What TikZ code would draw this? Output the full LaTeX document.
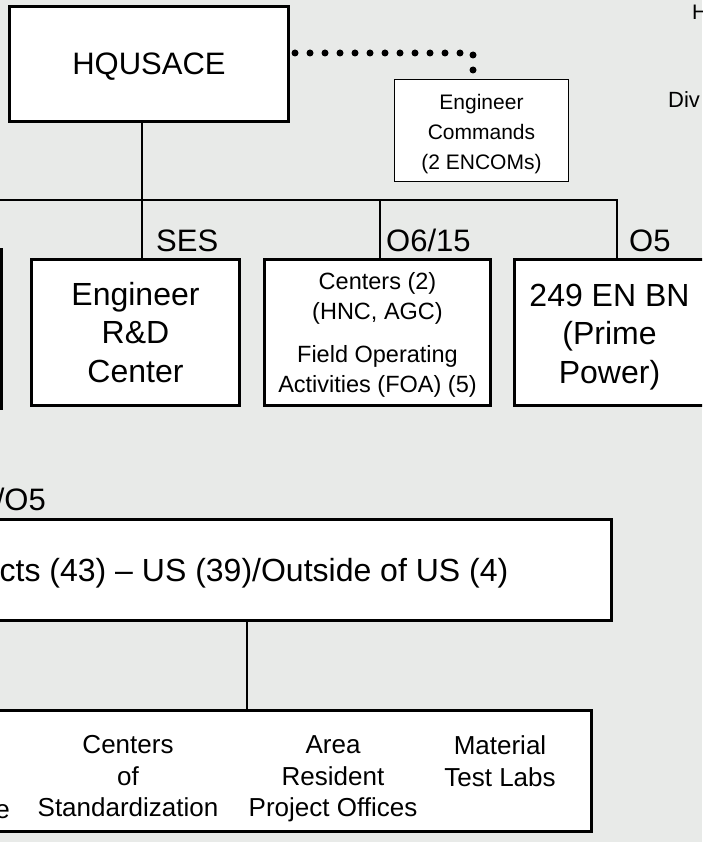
\documentclass[tikz,border=0pt]{standalone}
\usepackage{fontspec}
\setmainfont{Liberation Sans}
\usepackage{xcolor}
\usetikzlibrary{positioning}
\definecolor{camo}{HTML}{E8EAE8}
\newcommand{\fsz}[2]{\fontsize{#1}{#2}\selectfont}

\begin{document}
\begin{tikzpicture}[
    x=1pt,y=-1pt,
    box/.style={draw,line width=3pt,fill=white,inner sep=0pt,align=center},
    thinbox/.style={box,line width=1.8pt},
    grade/.style={anchor=base west,inner sep=0pt,font=\fsz{31}{31}},
    edgetext/.style={inner sep=0pt},
    cell/.style={anchor=north,inner sep=0pt,align=center,font=\fsz{26}{31.5}},
    link/.style={line width=2pt},
    dotlink/.style={line width=7pt,line cap=round,dash pattern=on 0pt off 15pt}
  ]
    \useasboundingbox (0,0) rectangle (702,842);
    \clip (0,0) rectangle (702,842);
    \fill[camo] (0,0) rectangle (702,842);

    \node[box,minimum width=279pt,minimum height=115pt,text depth=0pt,font=\fsz{31}{37}] (hq) at (149,64) {HQUSACE};
    \node[thinbox,minimum width=174pt,minimum height=102pt,text height=83pt,font=\fsz{21}{30}] (encom) at (481.5,130.5) {Engineer\\Commands\\(2 ENCOMs)};

    \node[edgetext,anchor=base west,font=\fsz{21}{21}] (hqr) at (692,20) {H};
    \node[edgetext,anchor=base west,font=\fsz{22}{22}] (divr) at (668,108) {Div};

    \node[box,minimum width=208pt,minimum height=159pt] (lbox) at (-102.5,329) {};
    \node[box,minimum width=208pt,minimum height=146pt,font=\fsz{32}{38.5}] (rnd) at (135.5,332.5) {Engineer\\R\&D\\Center};
    \node[box,right=22pt of rnd,minimum width=226pt,minimum height=146pt,text height=124pt,font=\fsz{23.5}{30}] (ctr) {Centers (2)\\(HNC, AGC)\\[13pt]Field Operating\\Activities (FOA) (5)};
    \node[box,right=21pt of ctr,minimum width=190pt,minimum height=146pt,text height=108pt,font=\fsz{32}{38.5}] (enbn) {249 EN BN\\(Prime\\Power)};

    \node[grade] (ses) at (156,251) {SES};
    \node[grade] (o615) at (386,251) {O6/15};
    \node[grade] (o5) at (629,251) {O5};

    \coordinate (busC) at (142,200);
    \coordinate (dropC) at (380,200);
    \coordinate (dropE) at (617,200);
    \coordinate (dotC) at (473,53);

    \draw[dotlink,shorten <=5pt,shorten >=4pt] (hq.east |- dotC) -- (dotC) -- (dotC |- encom.north);
    \draw[link] (hq.south -| busC) -- (rnd.north -| busC);
    \draw[link] (lbox.north) -- (lbox.north |- busC) -- (dropE) -- (enbn.north -| dropE);
    \draw[link] (dropC) -- (ctr.north -| dropC);

    % districts
    \node[grade,anchor=base east] (o65) at (46,510) {/O5};
    \node[box,minimum width=715pt,minimum height=101pt,text depth=0pt,font=\fsz{32}{38}] (dist) at (254,570) {cts (43) – US (39)/Outside of US (4)};

    \node[box,minimum width=689pt,minimum height=121pt] (low) at (247,771) {};
    \node[cell] (cos) at (128,735.5) {Centers\\of\\Standardization};
    \node[cell] (arpo) at (333,735.5) {Area\\Resident\\Project Offices};
    \node[cell] (mtl) at (500,735.5) {Material\\Test Labs};
    \node[edgetext,anchor=base east,font=\fsz{26}{26}] (tail) at (10,818) {e};

    \draw[link] (low.north) -- (low.north |- dist.south);
  \end{tikzpicture}
\end{document}
